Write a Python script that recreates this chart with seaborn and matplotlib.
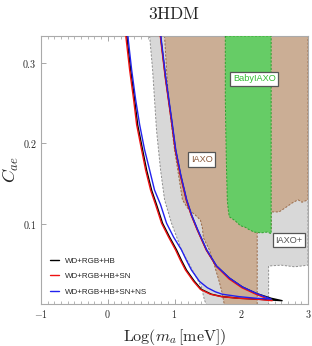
#!/usr/bin/env python3

import pandas as pd
import seaborn as sns
import matplotlib
matplotlib.use("Agg")
import matplotlib.pyplot as plt
from matplotlib.ticker import MultipleLocator, FuncFormatter

# Closed bound contours in the (Log m_a, C_ae) plane.
# Each contour: upper branch from the top down to the tip, then the
# lower branch listed from the top down to the same tip.
hb_upper_x = [0.781, 0.866, 0.955, 1.015, 1.090, 1.179, 1.254, 1.343, 1.478, 1.627, 1.821, 2.015, 2.224, 2.448, 2.612]
hb_upper_c = [0.340, 0.281, 0.229, 0.192, 0.161, 0.130, 0.111, 0.093, 0.068, 0.048, 0.033, 0.022, 0.014, 0.008, 0.005]
hb_lower_x = [0.276, 0.343, 0.403, 0.448, 0.522, 0.582, 0.657, 0.731, 0.821, 0.925, 1.030, 1.104, 1.179, 1.299, 1.403, 1.552, 1.716, 1.970, 2.224, 2.418, 2.612]
hb_lower_c = [0.340, 0.291, 0.254, 0.223, 0.192, 0.167, 0.142, 0.124, 0.101, 0.084, 0.068, 0.055, 0.043, 0.029, 0.019, 0.013, 0.010, 0.008, 0.007, 0.006, 0.005]

sn_upper_x = [0.777, 0.862, 0.951, 1.011, 1.086, 1.175, 1.250, 1.339, 1.474, 1.623, 1.817, 2.011, 2.220, 2.463]
sn_upper_c = [0.340, 0.281, 0.229, 0.192, 0.161, 0.130, 0.111, 0.093, 0.068, 0.048, 0.032, 0.021, 0.013, 0.005]
sn_lower_x = [0.261, 0.328, 0.388, 0.433, 0.507, 0.567, 0.642, 0.716, 0.806, 0.910, 1.015, 1.089, 1.164, 1.284, 1.388, 1.537, 1.701, 1.955, 2.209, 2.463]
sn_lower_c = [0.340, 0.291, 0.254, 0.223, 0.192, 0.167, 0.142, 0.124, 0.101, 0.084, 0.068, 0.055, 0.043, 0.029, 0.019, 0.013, 0.010, 0.008, 0.007, 0.005]

ns_upper_x = [0.785, 0.870, 0.959, 1.019, 1.094, 1.183, 1.258, 1.347, 1.482, 1.631, 1.825, 2.019, 2.228, 2.448]
ns_upper_c = [0.340, 0.281, 0.229, 0.192, 0.161, 0.130, 0.111, 0.093, 0.068, 0.048, 0.033, 0.022, 0.014, 0.007]
ns_lower_x = [0.291, 0.358, 0.418, 0.478, 0.552, 0.627, 0.701, 0.791, 0.881, 0.985, 1.104, 1.179, 1.254, 1.373, 1.493, 1.612, 1.716, 1.970, 2.224, 2.448]
ns_lower_c = [0.340, 0.291, 0.254, 0.223, 0.192, 0.167, 0.142, 0.124, 0.101, 0.084, 0.068, 0.055, 0.043, 0.029, 0.021, 0.016, 0.013, 0.010, 0.008, 0.007]

series_labels = ["WD+RGB+HB", "WD+RGB+HB+SN", "WD+RGB+HB+SN+NS"]
series_colors = ["black", "#ee1111", "#2222ee"]

# Helioscope sensitivity regions (outlines)
iaxo_plus_x = [0.627, 0.672, 0.701, 0.731, 0.791, 0.851, 0.955, 1.104, 1.269, 1.403, 1.448, 1.478,
               2.410, 2.410, 2.600, 2.800, 3.000, 3.000]
iaxo_plus_c = [0.333, 0.291, 0.254, 0.216, 0.167, 0.130, 0.101, 0.068, 0.043, 0.022, 0.006, 0.000,
               0.000, 0.048, 0.049, 0.047, 0.049, 0.333]

iaxo_x = [0.851, 0.881, 0.910, 0.955, 1.000, 1.060, 1.119, 1.194, 1.269, 1.313, 1.388, 1.418, 1.433,
          1.522, 1.597, 1.672, 1.716, 1.746, 2.239, 2.239, 2.448, 2.448, 2.567, 2.657, 2.761,
          2.851, 2.910, 3.000, 3.000]
iaxo_c = [0.333, 0.291, 0.254, 0.223, 0.192, 0.161, 0.130, 0.120, 0.114, 0.111, 0.105, 0.095, 0.083,
          0.068, 0.049, 0.028, 0.014, 0.000, 0.000, 0.092, 0.092, 0.115, 0.115, 0.120, 0.126,
          0.130, 0.127, 0.130, 0.333]

baby_x = [1.761, 1.761, 1.776, 1.791, 1.806, 1.821, 1.910, 1.985, 2.060, 2.119, 2.194, 2.299, 2.388, 2.448, 2.448]
baby_c = [0.333, 0.254, 0.179, 0.130, 0.117, 0.109, 0.104, 0.098, 0.096, 0.093, 0.090, 0.089, 0.090, 0.088, 0.333]

region_labels = ["BabyIAXO", "IAXO", "IAXO+"]
region_label_x = [2.194, 1.410, 2.716]
region_label_c = [0.280, 0.180, 0.080]
region_label_colors = ["#33bb33", "#8b5a3c", "#555555"]

# build a long-form frame for the contours
frames = []
for label, ux, uc, lx, lc in [
    (series_labels[0], hb_upper_x, hb_upper_c, hb_lower_x, hb_lower_c),
    (series_labels[1], sn_upper_x, sn_upper_c, sn_lower_x, sn_lower_c),
    (series_labels[2], ns_upper_x, ns_upper_c, ns_lower_x, ns_lower_c),
]:
    frames.append(pd.DataFrame({
        "log_ma": ux + lx[::-1],
        "c_ae": uc + lc[::-1],
        "bound": label,
    }))
contour_df = pd.concat(frames, ignore_index=True)

sns.set_theme(style="ticks")
plt.rcParams["mathtext.fontset"] = "cm"
plt.rcParams["font.family"] = ["Liberation Sans", "DejaVu Sans"]

fig = plt.figure(figsize=(3.12, 3.46), dpi=100)
ax = fig.add_axes([0.1314, 0.1214, 0.8558, 0.7746])
ax.set_facecolor("white")

dash = (0, (2.2, 1.6))
ax.fill(iaxo_plus_x, iaxo_plus_c, facecolor="#d8d8d8", edgecolor="#8f8f8f",
        linestyle=dash, linewidth=0.7, zorder=1)
ax.fill(iaxo_x, iaxo_c, facecolor="#cbae95", edgecolor="#9a6a48",
        linestyle=dash, linewidth=0.7, zorder=2)
ax.fill(baby_x, baby_c, facecolor="#66cc66", edgecolor="#2ea02e",
        linestyle=dash, linewidth=0.7, zorder=3)

sns.lineplot(
    data=contour_df,
    x="log_ma",
    y="c_ae",
    hue="bound",
    hue_order=series_labels,
    palette=series_colors,
    sort=False,
    estimator=None,
    linewidth=1.0,
    ax=ax,
    zorder=4,
)

for text, tx, tc, col in zip(region_labels, region_label_x, region_label_c, region_label_colors):
    ax.text(tx, tc, text, color=col, fontsize=6.6, ha="center", va="center", zorder=6,
            bbox=dict(boxstyle="square,pad=0.3", facecolor="white", edgecolor="#555555", linewidth=0.9))

ax.set_xlim(-1, 3)
ax.set_ylim(0.0009, 0.333)

ax.xaxis.set_major_locator(MultipleLocator(1))
ax.xaxis.set_minor_locator(MultipleLocator(0.1))
ax.yaxis.set_major_locator(MultipleLocator(0.1))
fmt = FuncFormatter(lambda v, p: "$%g$" % round(v, 3))
ax.xaxis.set_major_formatter(fmt)
ax.yaxis.set_major_formatter(fmt)
ax.tick_params(which="both", direction="in", top=True, right=True, color="#999999",
               labelsize=7.2, pad=3)
ax.tick_params(which="major", length=3.5, width=0.6)
ax.tick_params(which="minor", length=2, width=0.5)
for spine in ax.spines.values():
    spine.set_color("#aaaaaa")
    spine.set_linewidth(0.8)

ax.set_xlabel(r"$\mathrm{Log}(m_a\,[\mathrm{meV}])$", fontsize=11.5, labelpad=5)
ax.set_ylabel(r"$C_{ae}$", fontsize=13, labelpad=1)
ax.set_title(r"$\mathrm{3HDM}$", fontsize=12.5, pad=12)

handles, labels = ax.get_legend_handles_labels()
ax.legend(handles, labels, loc="lower left", bbox_to_anchor=(0.035, 0.03),
          frameon=False, fontsize=5.8, handlelength=1.1, handletextpad=0.7,
          labelspacing=1.0, borderaxespad=0, borderpad=0)

fig.savefig("out.png", dpi=100)
